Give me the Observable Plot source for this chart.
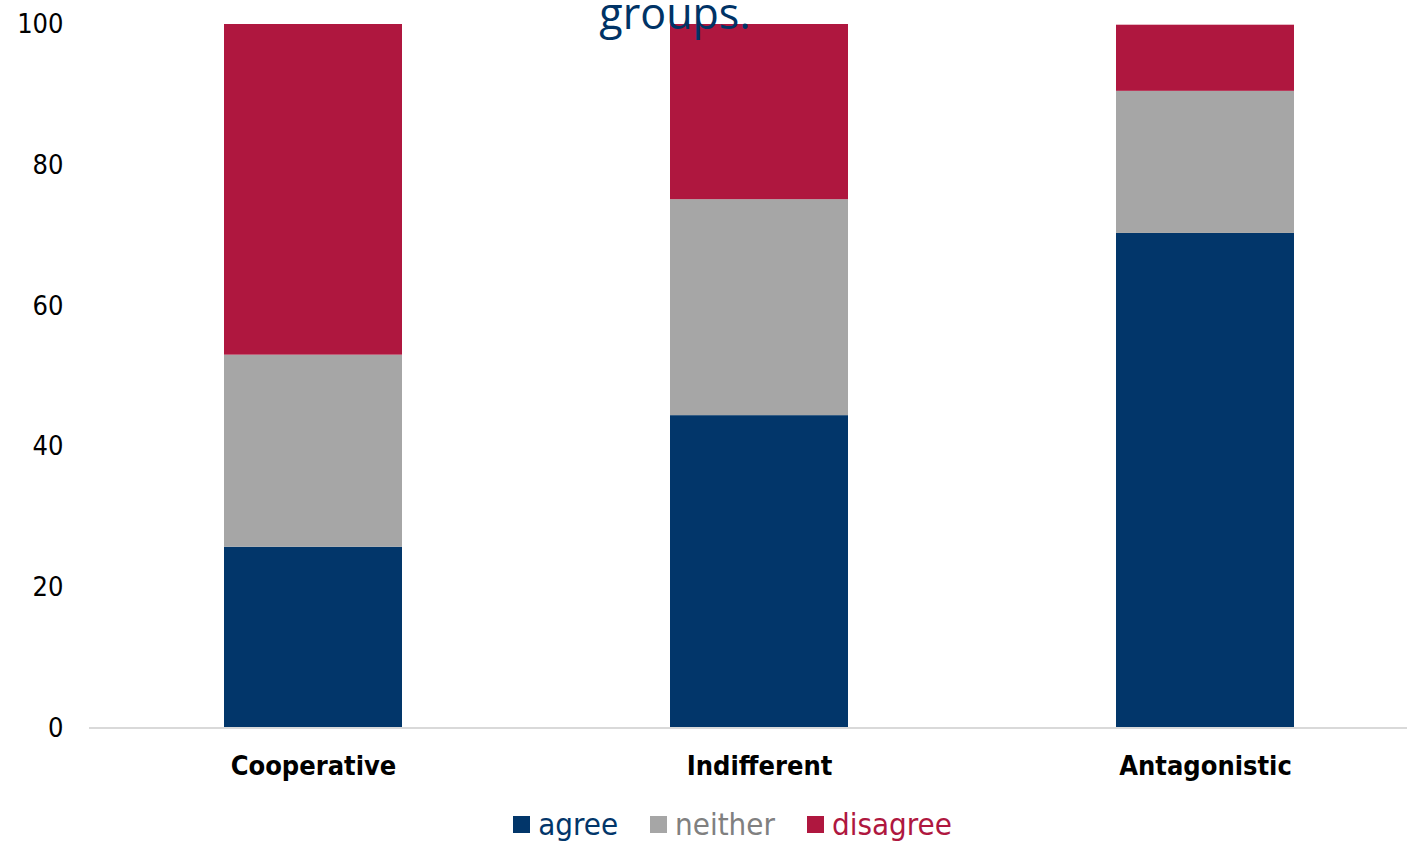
<!DOCTYPE html>
<html><head><meta charset="utf-8">
<script src="https://cdn.jsdelivr.net/npm/d3@7"></script>
<script src="https://cdn.jsdelivr.net/npm/@observablehq/plot@0.6"></script>
<style>
html,body{margin:0;padding:0;background:#fff;overflow:hidden;}
#wrap{position:relative;width:1407px;height:842px;}
#title{position:absolute;left:0;width:1350px;text-align:center;top:-4px;height:44px;font-family:"Open Sans",sans-serif;font-size:43px;color:#003366;z-index:2;line-height:34px;white-space:nowrap;overflow:visible;}
#legend{position:absolute;top:806px;left:0;width:1407px;display:flex;justify-content:center;gap:32px;font-family:"DejaVu Sans Condensed","DejaVu Sans",sans-serif;font-size:31px;padding-left:58px;box-sizing:border-box;}
.item{display:flex;align-items:center;gap:8px;}
.sw{width:17px;height:17px;display:inline-block;}
</style></head>
<body><div id="wrap"><div id="title">groups.</div><div id="chart"></div><div id="legend"></div></div>
<script>
const categories = ["Cooperative", "Indifferent", "Antagonistic"];
const series = ["agree", "neither", "disagree"];
const agree = [25.7, 44.4, 70.3];
const neither = [27.3, 30.7, 20.2];
const disagree = [47.0, 24.9, 9.4];
const yTicks = [0, 20, 40, 60, 80, 100];
const colors = ["#02366A", "#A6A6A6", "#AF173F"];
const textColors = ["#02366A", "#808080", "#AF173F"];

const values = {agree, neither, disagree};
const data = [];
series.forEach(s => categories.forEach((c, i) => data.push({category: c, series: s, value: values[s][i]})));

const chart = Plot.plot({
  width: 1407,
  height: 790,
  marginTop: 24,
  marginBottom: 62.5,
  marginLeft: 89,
  marginRight: 0,
  style: {fontFamily: "'DejaVu Sans Condensed','DejaVu Sans',sans-serif", background: "transparent"},
  x: {domain: categories, range: [89, 1428.5], paddingInner: 0.6, paddingOuter: 0.3, label: null},
  y: {domain: [0, 100], label: null},
  color: {domain: series, range: colors},
  marks: [
    Plot.barY(data, Plot.stackY({order: series}, {x: "category", y: "value", fill: "series"})),
    Plot.ruleY([0], {stroke: "#D9D9D9", strokeWidth: 2}),
    Plot.axisY({ticks: yTicks, tickSize: 0, tickPadding: 26, fontSize: 27, fill: "#000", label: null, tickFormat: d => d}),
    Plot.axisX({tickSize: 0, tickPadding: 28, fontSize: 27, fontWeight: "bold", fill: "#000", label: null})
  ]
});
document.getElementById("chart").appendChild(chart);

const legend = document.getElementById("legend");
series.forEach((s, i) => {
  const it = document.createElement("div");
  it.className = "item";
  it.innerHTML = `<span class="sw" style="background:${colors[i]}"></span><span style="color:${textColors[i]}">${s}</span>`;
  legend.appendChild(it);
});
</script></body></html>
